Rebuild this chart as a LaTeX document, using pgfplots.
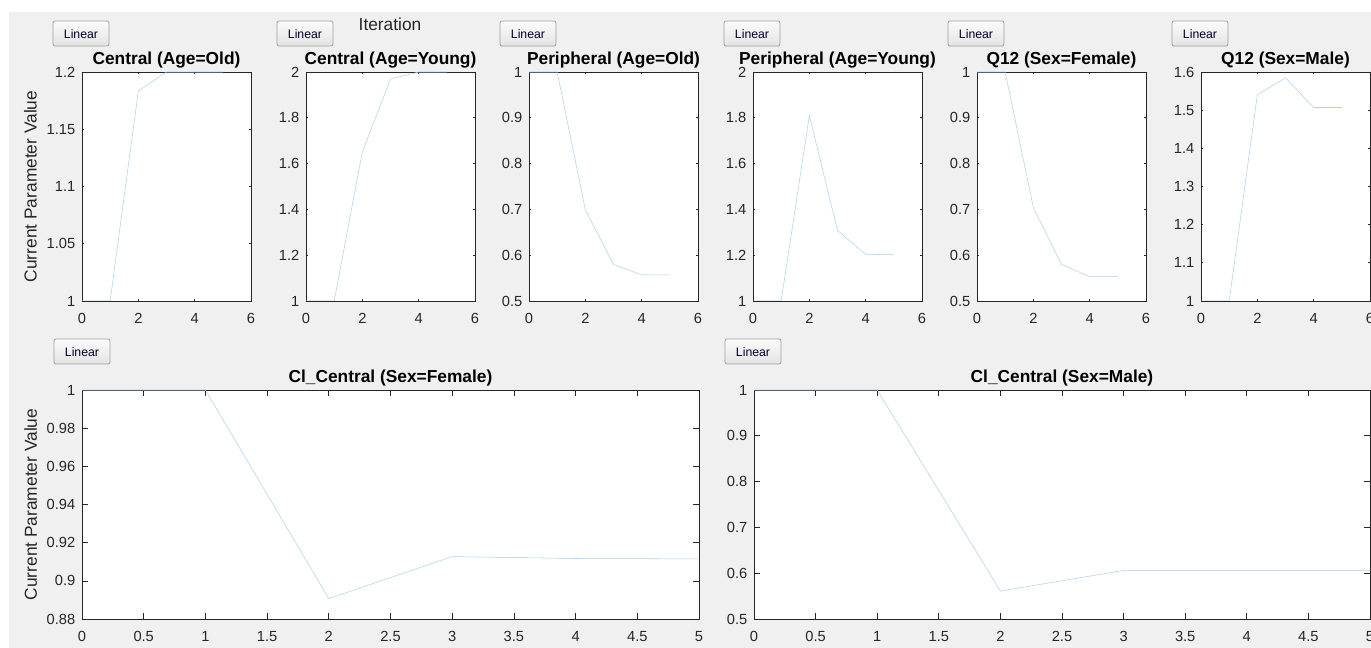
\documentclass[border=0pt]{standalone}
\usepackage{pgfplots}
\pgfplotsset{compat=1.18}
\usepackage{fontspec}
\setmainfont{Liberation Sans}
\definecolor{axcol}{RGB}{38,38,38}
\definecolor{figbg}{RGB}{240,240,240}
\definecolor{linecol}{RGB}{176,210,236}
\definecolor{btnborder}{RGB}{160,160,160}
\pgfplotsset{
  mstyle/.style={
    scale only axis, anchor=north west,
    axis background/.style={fill=white},
    axis line style={draw=axcol, line width=0.6pt},
    every tick/.style={draw=axcol, line width=0.5pt},
    tick align=inside,
    tick label style={font=\fontsize{11}{13}\selectfont, text=axcol},
    /pgf/number format/assume math mode=true,
    scaled ticks=false,
    title style={font=\fontsize{13}{15}\selectfont\bfseries, text=black, yshift=-6.5pt},
    xticklabel style={yshift=-6pt},
    yticklabel style={xshift=-1.5pt},
    ylabel style={font=\fontsize{13}{15}\selectfont, text=axcol},
    cycle list={{draw=linecol, line width=0.9pt, mark=none}},
  },
  toprow/.style={mstyle, width=126.75pt, height=171.75pt, xmin=0, xmax=6, xtick={0,2,4,6}, major tick length=1.8pt},
  botrow/.style={mstyle, height=171.75pt, xmin=0, xmax=5, xtick={0,0.5,1,1.5,2,2.5,3,3.5,4,4.5,5}, major tick length=4.5pt},
}
\newcommand{\button}[2]{% left x px, top y px
  \draw[btnborder, rounded corners=1.5pt, top color=white!97!gray, bottom color=gray!22, line width=0.6pt]
    (#1*0.75pt,-#2*0.75pt) rectangle ({(#1+56)*0.75pt},{-(#2+25)*0.75pt});
  \node[font=\fontsize{9.2}{11}\selectfont, text=black!85!blue] at ({(#1+28)*0.75pt},{-(#2+12.8)*0.75pt}) {Linear};
}
\begin{document}
\begin{tikzpicture}
\useasboundingbox (0,0) rectangle (1028.25pt,-486pt);
\clip (0,0) rectangle (1028.25pt,-486pt);
\fill[white] (0,0) rectangle (1028.25pt,-486pt);
\fill[figbg] (6.75pt,-9pt) rectangle (1028.25pt,-486pt);

\button{53}{21}
\button{277}{21}
\button{500}{21}
\button{724}{21}
\button{948}{21}
\button{1172}{21}
\button{54}{339}
\button{725}{339}

\node[font=\fontsize{13}{15}\selectfont, text=axcol] at (292.5pt,-18pt) {Iteration};

% Panel 1
\begin{axis}[toprow, at={(61.5pt,-54pt)}, ymin=1, ymax=1.2,
  ytick={1,1.05,1.1,1.15,1.2},
  yticklabels={1,1.05,1.1,1.15,1.2},
  title={Central (Age=Old)},
  ylabel={Current Parameter Value},
  ylabel style={at={(axis description cs:-0.305,0.5)}, anchor=center, rotate=0}]
\addplot coordinates {(0,1) (1,1) (2,1.1835) (3,1.2) (4,1.2) (5,1.2)};
\end{axis}

% Panel 2
\begin{axis}[toprow, at={(229.5pt,-54pt)}, ymin=1, ymax=2,
  ytick={1,1.2,1.4,1.6,1.8,2},
  title={Central (Age=Young)}]
\addplot coordinates {(0,1) (1,1) (2,1.651) (3,1.969) (4,2.0) (5,2.0)};
\end{axis}

% Panel 3
\begin{axis}[toprow, at={(396.75pt,-54pt)}, ymin=0.5, ymax=1,
  ytick={0.5,0.6,0.7,0.8,0.9,1},
  title={Peripheral (Age=Old)}]
\addplot coordinates {(0,1) (1,1) (2,0.699) (3,0.580) (4,0.557) (5,0.557)};
\end{axis}

% Panel 4
\begin{axis}[toprow, at={(564.75pt,-54pt)}, ymin=1, ymax=2,
  ytick={1,1.2,1.4,1.6,1.8,2},
  title={Peripheral (Age=Young)}]
\addplot coordinates {(0,1) (1,1) (2,1.809) (3,1.308) (4,1.204) (5,1.202)};
\end{axis}

% Panel 5
\begin{axis}[toprow, at={(732.75pt,-54pt)}, ymin=0.5, ymax=1,
  ytick={0.5,0.6,0.7,0.8,0.9,1},
  title={Q12 (Sex=Female)}]
\addplot coordinates {(0,1) (1,1) (2,0.704) (3,0.580) (4,0.553) (5,0.553)};
\end{axis}

% Panel 6
\begin{axis}[toprow, at={(900.75pt,-54pt)}, ymin=1, ymax=1.6,
  ytick={1,1.1,1.2,1.3,1.4,1.5,1.6},
  title={Q12 (Sex=Male)}]
\addplot coordinates {(0,1) (1,1) (2,1.540) (3,1.585) (4,1.507) (5,1.507)};
\end{axis}

% Panel 7
\begin{axis}[botrow, width=462.75pt, at={(61.5pt,-292.5pt)}, ymin=0.88, ymax=1,
  ytick={0.88,0.9,0.92,0.94,0.96,0.98,1},
  yticklabels={0.88,0.9,0.92,0.94,0.96,0.98,1},
  title={Cl\_Central (Sex=Female)},
  ylabel={Current Parameter Value},
  ylabel style={at={(axis description cs:-0.083,0.5)}, anchor=center, rotate=0}]
\addplot coordinates {(0,1) (1,1) (2,0.8907) (3,0.9127) (4,0.9117) (5,0.9115)};
\end{axis}

% Panel 8
\begin{axis}[botrow, width=462pt, at={(565.5pt,-292.5pt)}, ymin=0.5, ymax=1,
  ytick={0.5,0.6,0.7,0.8,0.9,1},
  title={Cl\_Central (Sex=Male)}]
\addplot coordinates {(0,1) (1,1) (2,0.561) (3,0.606) (4,0.606) (5,0.606)};
\end{axis}
\end{tikzpicture}
\end{document}
